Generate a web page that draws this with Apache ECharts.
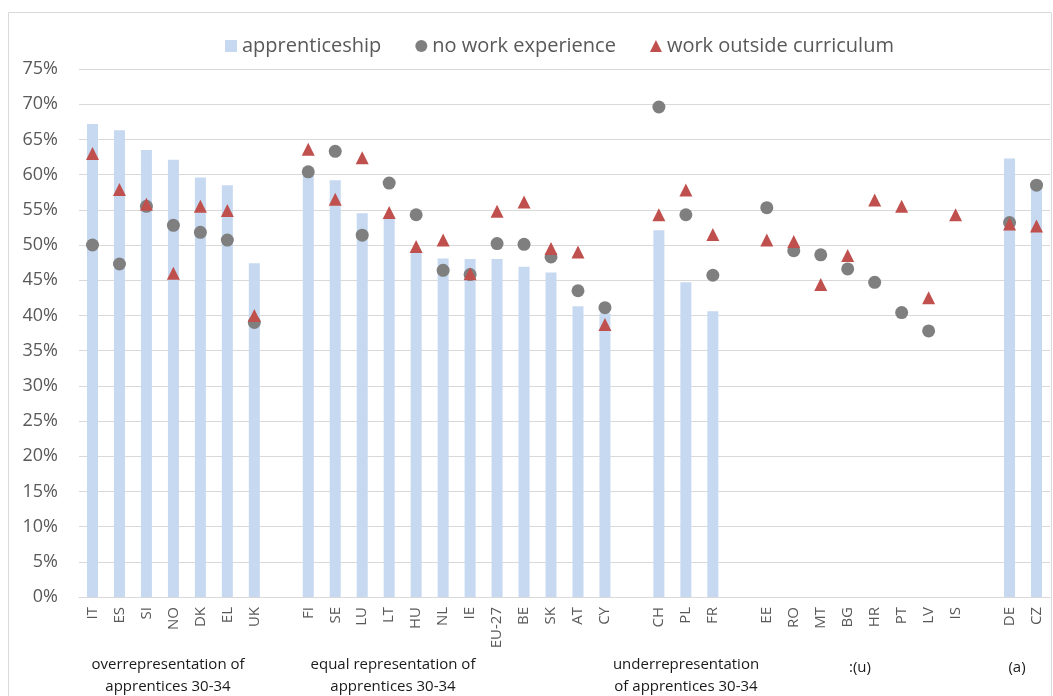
<!DOCTYPE html>
<html>
<head>
<meta charset="utf-8">
<script src="https://cdn.jsdelivr.net/npm/echarts@6/dist/echarts.min.js"></script>
<style>html,body{margin:0;padding:0;background:#fff}#c{width:1053px;height:696px}</style>
</head>
<body>
<div id="c"></div>
<script>
var categories = ['IT','ES','SI','NO','DK','EL','UK','',
  'FI','SE','LU','LT','HU','NL','IE','EU-27','BE','SK','AT','CY','',
  'CH','PL','FR','',
  'EE','RO','MT','BG','HR','PT','LV','IS','',
  'DE','CZ'];
var apprenticeship = [67.2,66.3,63.5,62.1,59.6,58.5,47.4,null,
  60.4,59.2,54.5,54.0,49.1,48.1,48.0,48.0,46.9,46.1,41.3,40.3,null,
  52.1,44.7,40.6,null,
  null,null,null,null,null,null,null,null,null,
  62.3,58.3];
var noWorkExperience = [50.0,47.3,55.5,52.8,51.8,50.7,39.0,null,
  60.4,63.3,51.4,58.8,54.3,46.4,45.8,50.2,50.1,48.3,43.5,41.1,null,
  69.6,54.3,45.7,null,
  55.3,49.2,48.6,46.6,44.7,40.4,37.8,null,null,
  53.2,58.5];
var workOutsideCurriculum = [63.0,57.9,55.8,46.0,55.5,54.9,40.0,null,
  63.6,56.5,62.4,54.6,49.8,50.7,45.9,54.8,56.1,49.5,49.0,38.7,null,
  54.3,57.8,51.5,null,
  50.7,50.5,44.4,48.5,56.4,55.5,42.5,54.3,null,
  53.0,52.7];
var groupLabels = [
  {text:'overrepresentation of\napprentices 30-34', x:168, y:676},
  {text:'equal representation of\napprentices 30-34', x:393, y:676},
  {text:'underrepresentation\nof apprentices 30-34', x:686, y:676},
  {text:':(u)', x:860, y:668},
  {text:'(a)', x:1017, y:668}
];
var seriesNames = ['apprenticeship','no work experience','work outside curriculum'];

var chart = echarts.init(document.getElementById('c'), null, {renderer:'canvas'});
var font = 'Open Sans, Noto Sans, sans-serif';
var graphics = [{
  type:'rect', silent:true, z:-1,
  shape:{x:8.5, y:12.5, width:1043, height:700},
  style:{fill:'none', stroke:'#d9d9d9', lineWidth:1}
}];
groupLabels.forEach(function(g){
  graphics.push({type:'text', x:g.x, y:g.y, silent:true,
    style:{text:g.text, fill:'#1a1a1a', font:'15px ' + font, align:'center', verticalAlign:'middle', lineHeight:22}});
});
chart.setOption({
  animation:false,
  backgroundColor:'#fff',
  textStyle:{fontFamily:font},
  legend:{
    top:31, left:220, itemGap:34, itemWidth:12, itemHeight:12,
    textStyle:{color:'#595959', fontSize:20, fontFamily:font},
    data:[{name:seriesNames[0], icon:'rect'},{name:seriesNames[1], icon:'circle'},{name:seriesNames[2], icon:'triangle'}]
  },
  grid:{left:79, right:3, top:69, bottom:99},
  xAxis:{
    type:'category', data:categories,
    axisLine:{lineStyle:{color:'#d9d9d9'}},
    axisTick:{show:false},
    axisLabel:{rotate:90, interval:0, color:'#595959', fontSize:15, margin:10, fontFamily:font}
  },
  yAxis:{
    type:'value', min:0, max:75, interval:5,
    axisLabel:{formatter:'{value}%', color:'#595959', fontSize:18, margin:21, fontFamily:font},
    splitLine:{lineStyle:{color:'#d9d9d9'}},
    axisLine:{show:false}, axisTick:{show:false}
  },
  series:[
    {name:seriesNames[0], type:'bar', data:apprenticeship, barWidth:11, itemStyle:{color:'#c6d9f1'}},
    {name:seriesNames[1], type:'scatter', data:noWorkExperience, symbol:'circle', symbolSize:13, itemStyle:{color:'#7f7f7f', opacity:1}},
    {name:seriesNames[2], type:'scatter', data:workOutsideCurriculum, symbol:'triangle', symbolSize:13, itemStyle:{color:'#c0504d', opacity:1}}
  ],
  graphic:graphics
});
</script>
</body>
</html>
